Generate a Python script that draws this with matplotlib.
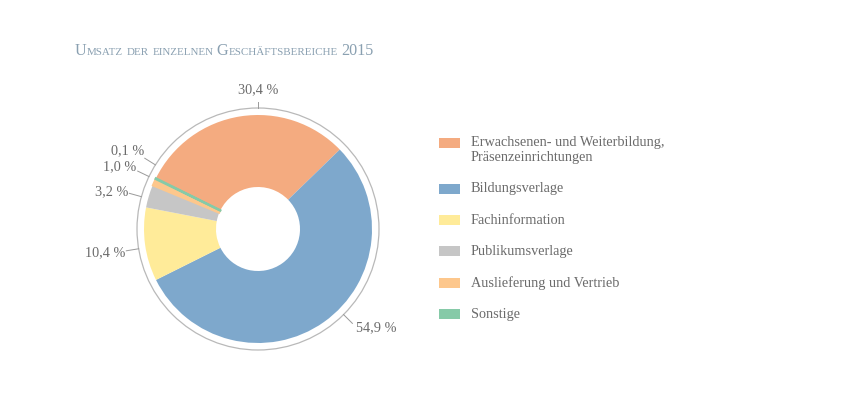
import numpy as np
import matplotlib
matplotlib.use("Agg")
import matplotlib.pyplot as plt
from matplotlib.patches import Circle, Rectangle

# Daten
categories = ["Erwachsenen- und Weiterbildung,\nPräsenzeinrichtungen",
              "Bildungsverlage", "Fachinformation", "Publikumsverlage",
              "Auslieferung und Vertrieb", "Sonstige"]
shares = [30.4, 54.9, 10.4, 3.2, 1.0, 0.1]
value_labels = ["30,4 %", "54,9 %", "10,4 %", "3,2 %", "1,0 %", "0,1 %"]
title_text = "Umsatz der einzelnen Geschäftsbereiche 2015"

colors = ["#f4ab80", "#7ea8cc", "#ffeb99", "#c6c6c6", "#fdc78c", "#86caa8"]
# Lage der Beschriftungen (Winkel der Linie, vertikaler Versatz in px)
label_angles = [90, -45, 189.4, 164.5, 154.3, 148]
label_dy = [0, -4, -2.3, 1.3, 4, 7.6]

W, H = 865, 412
fig = plt.figure(figsize=(W / 100, H / 100), dpi=100)
ax = fig.add_axes([0, 0, 1, 1])

def Y(y):
    # Bildkoordinate (von oben) -> Achsenkoordinate
    return H - y

cx, cy = 258, Y(229)
r_out, r_in, r_ring = 114, 42, 121

wedges, _ = ax.pie(shares, colors=colors, startangle=153.6, counterclock=False,
                   radius=r_out, center=(cx, cy),
                   wedgeprops=dict(width=r_out - r_in, linewidth=0))
# sehr kleine Segmente sichtbar machen
for w, s in zip(wedges, shares):
    if s < 2:
        w.set_edgecolor(w.get_facecolor())
        w.set_linewidth(1.6 if s < 0.5 else 1.2)
ax.add_patch(Circle((cx, cy), r_ring, fill=False, ec="#b9b9b9", lw=0.9))

serif = ["Liberation Serif", "DejaVu Serif"]
txt_col = "#6b6b6b"
fs_txt = 10.3

# Beschriftungen mit kurzen Linien
for lab, ang, dy in zip(value_labels, label_angles, label_dy):
    a = np.deg2rad(ang)
    x0, y0 = cx + r_ring * np.cos(a), cy + r_ring * np.sin(a)
    l = 6 if ang == 90 else 12.5
    x1, y1 = cx + (r_ring + l) * np.cos(a), cy + (r_ring + l) * np.sin(a)
    ax.plot([x0, x1], [y0, y1], color="#9a9a9a", lw=0.7)
    if ang == 90:
        ax.text(x1, y1 + 6, lab, ha="center", va="bottom", fontsize=fs_txt,
                family=serif, color=txt_col)
    elif np.cos(a) > 0:
        ax.text(x1 + 4, y1 + dy, lab, ha="left", va="center", fontsize=fs_txt,
                family=serif, color=txt_col)
    else:
        ax.text(x1 - 1, y1 + dy, lab, ha="right", va="center", fontsize=fs_txt,
                family=serif, color=txt_col)

# Legende
ly = 142.5
for cat, col in zip(categories, colors):
    ax.add_patch(Rectangle((439, Y(ly) - 5), 21, 10, color=col, lw=0))
    lines = cat.split("\n")
    for k, line in enumerate(lines):
        ax.text(471, Y(ly + 15 * k), line, ha="left", va="center",
                fontsize=fs_txt, family=serif, color=txt_col)
    ly += 31.3 + 15 * (len(lines) - 1)

# Titel in Kapitälchen
fig.canvas.draw()
renderer = fig.canvas.get_renderer()
tx = 75
big, small = 11.6, 7.9
title_col = "#8aa0b1"
for word in title_text.split(" "):
    parts = []
    for ch in word:
        fs = small if ch.islower() else big
        if parts and parts[-1][1] == fs:
            parts[-1][0] += ch.upper()
        else:
            parts.append([ch.upper(), fs])
    for s, fs in parts:
        t = ax.text(tx, Y(55), s, ha="left", va="baseline", fontsize=fs,
                    family=serif, color=title_col)
        tx += t.get_window_extent(renderer).width + 0.3
    tx += 3.2

ax.set_xlim(0, W)
ax.set_ylim(0, H)
ax.set_aspect("equal")
ax.axis("off")

fig.savefig("out.png", dpi=100, facecolor="white")
